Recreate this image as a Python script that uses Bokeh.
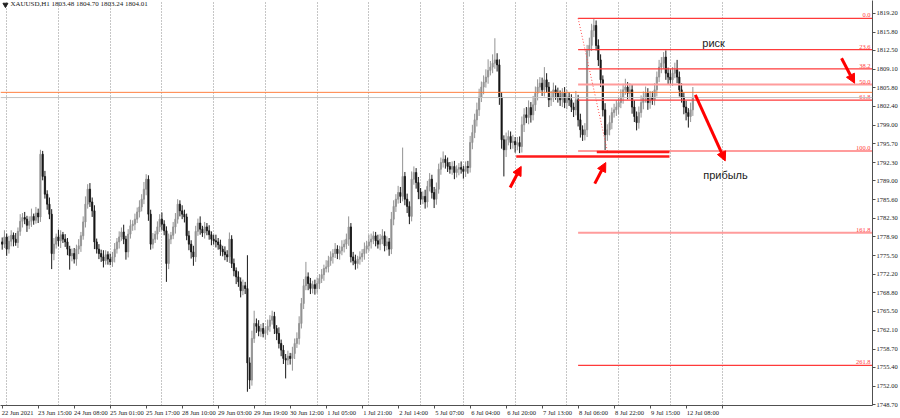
from bokeh.plotting import figure
from bokeh.models import (Range1d, FixedTicker, Label, Span, Arrow, NormalHead, LinearAxis,
                          ColumnDataSource, PrintfTickFormatter)
from bokeh.core.properties import value
from bokeh.embed import file_html
from bokeh.resources import INLINE

# ---------------- data ----------------
title_text = "XAUUSD,H1  1803.48 1804.70 1803.24 1804.01"

first_open = 1778.0
closes = [
    1777.6, 1778.9, 1776.7, 1778.1, 1779.2, 1778.5, 1777.9, 1779.9, 1781.7, 1782.4,
    1782.1, 1781.0, 1781.7, 1782.6, 1781.9, 1783.2, 1782.5, 1793.8, 1789.8, 1786.6,
    1784.8, 1783.0, 1775.9, 1777.6, 1778.9, 1778.2, 1779.3, 1778.5, 1778.0, 1776.7,
    1775.5, 1775.9, 1774.9, 1776.7, 1777.3, 1779.1, 1781.6, 1784.8, 1787.5, 1785.2,
    1783.6, 1778.0, 1776.7, 1775.9, 1775.3, 1774.6, 1775.7, 1774.9, 1774.4, 1775.3,
    1776.7, 1778.0, 1778.9, 1779.8, 1778.5, 1776.2, 1779.4, 1780.9, 1781.2, 1782.1,
    1783.4, 1784.3, 1785.7, 1787.5, 1789.3, 1783.0, 1777.6, 1778.5, 1779.4, 1780.7,
    1782.1, 1781.2, 1780.0, 1774.1, 1778.5, 1779.2, 1780.7, 1782.1, 1784.8, 1783.6,
    1783.0, 1782.5, 1779.1, 1777.6, 1776.2, 1775.3, 1779.9, 1781.4, 1780.3, 1779.6,
    1780.7, 1780.0, 1779.3, 1778.5, 1778.2, 1778.0, 1777.5, 1776.7, 1776.2, 1775.7,
    1775.3, 1778.5, 1774.1, 1772.8, 1771.7, 1770.8, 1769.2, 1770.1, 1769.6, 1756.2,
    1753.1, 1760.6, 1763.3, 1762.8, 1761.9, 1762.4, 1761.5, 1762.1, 1762.8, 1763.9,
    1764.6, 1762.4, 1761.5, 1759.7, 1758.5, 1757.0, 1756.7, 1757.4, 1757.0, 1757.9,
    1759.7, 1760.6, 1763.3, 1766.9, 1770.1, 1771.7, 1770.5, 1769.6, 1770.3, 1769.6,
    1770.5, 1771.4, 1772.1, 1773.2, 1773.5, 1774.6, 1775.3, 1775.9, 1776.7, 1775.9,
    1776.4, 1777.1, 1777.6, 1778.5, 1780.7, 1775.3, 1774.6, 1774.1, 1774.9, 1775.3,
    1775.9, 1776.7, 1777.3, 1778.0, 1778.5, 1779.1, 1778.2, 1777.6, 1778.5, 1779.1,
    1777.3, 1778.0, 1776.7, 1782.1, 1784.4, 1785.7, 1786.9, 1786.2, 1789.8, 1785.7,
    1784.4, 1782.6, 1789.3, 1790.5, 1788.7, 1787.0, 1785.7, 1786.2, 1785.2, 1788.0,
    1789.3, 1786.9, 1785.7, 1787.5, 1791.1, 1792.3, 1792.9, 1792.3, 1791.6, 1791.1,
    1791.6, 1790.5, 1791.1, 1791.4, 1791.1, 1790.7, 1791.6, 1791.4, 1795.9, 1797.7,
    1800.0, 1801.8, 1804.1, 1805.9, 1806.8, 1807.7, 1808.9, 1809.5, 1810.2, 1810.8,
    1809.9, 1804.1, 1796.4, 1794.6, 1796.4, 1797.0, 1795.9, 1796.1, 1795.5, 1795.9,
    1795.2, 1799.1, 1800.9, 1800.4, 1802.2, 1800.9, 1802.7, 1804.8, 1805.9, 1806.6,
    1805.4, 1807.2, 1805.9, 1803.6, 1804.1, 1805.4, 1804.8, 1804.1, 1803.6, 1804.8,
    1803.1, 1804.1, 1803.6, 1802.3, 1801.8, 1803.6, 1800.0, 1798.2, 1797.3, 1798.2,
    1812.5, 1813.4, 1816.1, 1817.0, 1813.4, 1810.8, 1807.2, 1801.8, 1797.3, 1798.2,
    1799.5, 1801.3, 1801.8, 1802.3, 1803.1, 1804.1, 1805.4, 1805.9, 1804.8, 1805.4,
    1802.3, 1800.6, 1799.5, 1801.3, 1803.1, 1804.1, 1804.8, 1803.1, 1804.1, 1803.6,
    1805.4, 1807.7, 1809.5, 1810.2, 1811.3, 1808.4, 1807.7, 1807.2, 1808.4, 1809.0,
    1807.7, 1805.4, 1804.1, 1802.3, 1801.3, 1800.6, 1801.8, 1804.01,
]
wick_up = [
    0.8, 1.2, 0.6, 1.0, 0.9, 0.5, 1.1, 0.7, 1.3, 0.8,
    1.0, 0.6, 0.9, 1.4, 0.5, 1.1, 0.8, 0.8, 0.6, 1.0,
    0.7, 1.2, 0.9, 1.1, 0.6, 1.3, 0.8, 0.5, 0.9, 0.7,
    0.6, 0.9, 1.0, 0.8, 1.2, 0.7, 1.0, 1.4, 0.9, 1.1,
    0.8, 1.0, 0.6, 0.9, 0.7, 1.2, 0.8, 0.6, 1.0, 0.9,
    1.1, 0.7, 1.0, 0.8, 1.3, 0.6, 0.9, 1.1, 0.7, 1.0,
    0.8, 1.2, 0.9, 1.3, 0.9, 0.7, 0.8, 1.1, 0.6, 1.0,
    0.9, 1.2, 0.7, 0.8, 1.0, 0.6, 0.9, 1.1, 0.9, 0.7,
    1.0, 0.8, 0.6, 0.9, 0.7, 1.1, 1.0, 0.8, 1.2, 0.6,
    0.9, 0.7, 1.0, 0.6, 0.8, 1.1, 0.7, 0.9, 0.6, 1.0,
    0.8, 1.2, 0.7, 0.9, 0.6, 1.0, 0.8, 1.1, 0.7, 6.0,
    1.0, 1.4, 2.3, 0.9, 1.1, 0.8, 1.0, 0.7, 1.2, 0.9,
    1.0, 0.8, 0.6, 1.1, 0.7, 0.9, 0.8, 1.0, 0.6, 1.2,
    0.9, 1.1, 1.3, 1.0, 1.2, 2.7, 0.8, 1.0, 0.7, 0.9,
    1.1, 0.8, 1.0, 0.7, 1.2, 0.9, 1.0, 0.8, 1.1, 0.7,
    0.9, 1.2, 0.8, 1.0, 1.9, 0.7, 0.9, 1.1, 0.6, 1.0,
    0.8, 1.2, 0.9, 1.3, 1.0, 0.8, 0.7, 1.1, 0.9, 1.2,
    0.8, 1.0, 0.7, 1.3, 1.1, 0.9, 1.2, 1.0, 5.2, 0.8,
    1.0, 0.9, 1.4, 1.1, 0.8, 1.0, 0.7, 0.9, 1.2, 1.0,
    1.1, 0.8, 1.0, 1.2, 1.0, 0.9, 1.4, 0.7, 0.9, 0.8,
    0.9, 1.0, 0.7, 0.8, 1.1, 0.6, 0.9, 1.0, 1.2, 1.4,
    1.1, 1.3, 1.5, 1.0, 1.2, 1.4, 2.0, 1.1, 1.6, 3.9,
    1.2, 1.0, 0.9, 0.8, 1.3, 1.1, 0.9, 1.2, 0.8, 1.0,
    1.1, 1.5, 1.2, 1.4, 1.3, 1.0, 1.6, 1.2, 1.4, 1.1,
    1.0, 2.3, 1.2, 0.9, 1.1, 1.3, 0.8, 1.0, 1.2, 0.9,
    1.1, 1.3, 0.9, 1.0, 0.8, 1.6, 0.9, 1.1, 0.8, 1.2,
    1.0, 1.4, 1.2, 1.3, 0.9, 1.1, 1.0, 0.8, 1.2, 1.0,
    1.3, 0.9, 1.1, 1.2, 1.0, 1.4, 1.1, 1.5, 0.9, 1.2,
    1.0, 1.2, 0.9, 1.1, 1.3, 1.0, 1.2, 0.9, 1.1, 1.0,
    1.2, 1.0, 1.3, 1.1, 0.9, 1.2, 1.0, 1.4, 1.1, 1.3,
    1.8, 1.0, 1.2, 0.9, 1.1, 0.8, 1.3, 1.9,
]
wick_dn = [
    1.0, 0.7, 1.2, 0.8, 0.9, 1.3, 0.6, 1.0, 0.8, 1.1,
    0.9, 1.2, 0.7, 1.0, 0.8, 0.6, 1.1, 0.9, 0.7, 0.8,
    1.0, 0.9, 2.8, 1.2, 0.8, 1.0, 1.3, 0.7, 0.9, 1.1,
    2.5, 1.0, 0.8, 1.2, 0.9, 1.1, 0.7, 1.0, 0.8, 0.9,
    1.1, 1.3, 0.8, 1.0, 0.9, 1.2, 0.7, 1.0, 0.6, 0.9,
    1.0, 0.8, 1.2, 0.7, 0.9, 1.4, 1.0, 0.8, 0.9, 1.1,
    0.7, 1.0, 0.8, 0.9, 1.1, 1.2, 1.0, 0.8, 0.7, 1.0,
    0.9, 1.1, 0.8, 3.3, 1.0, 0.9, 0.7, 1.2, 0.8, 1.0,
    0.9, 1.0, 0.8, 1.1, 1.2, 1.6, 0.9, 0.8, 1.0, 0.7,
    1.0, 0.8, 0.9, 1.1, 0.7, 1.0, 0.9, 1.2, 0.8, 1.0,
    0.9, 1.1, 0.8, 1.0, 1.3, 0.9, 1.2, 0.8, 1.0, 5.2,
    1.6, 1.0, 0.8, 1.2, 0.9, 1.0, 0.7, 1.1, 0.9, 1.0,
    0.8, 1.0, 1.2, 0.9, 1.1, 1.0, 3.3, 0.9, 1.1, 2.2,
    1.0, 0.8, 1.1, 0.9, 1.0, 0.8, 1.2, 1.0, 0.9, 1.1,
    0.9, 1.0, 0.8, 1.1, 0.7, 1.0, 0.9, 1.2, 0.8, 1.0,
    1.1, 0.8, 1.0, 0.9, 1.2, 1.0, 0.8, 1.1, 0.9, 1.0,
    0.9, 1.1, 0.8, 1.0, 1.2, 0.9, 1.0, 0.8, 1.1, 0.9,
    1.0, 0.8, 1.2, 0.9, 1.1, 1.0, 0.8, 1.2, 0.9, 1.1,
    1.2, 1.4, 0.9, 1.0, 1.1, 1.3, 1.0, 0.9, 1.2, 1.0,
    0.9, 1.1, 1.6, 1.0, 0.8, 1.0, 0.9, 1.1, 1.0, 0.8,
    1.0, 1.2, 0.9, 1.1, 0.8, 1.3, 1.0, 1.1, 0.9, 1.2,
    1.0, 1.2, 1.1, 0.9, 1.3, 1.0, 1.2, 0.9, 1.1, 1.0,
    1.2, 1.4, 1.6, 4.8, 1.3, 1.0, 1.2, 1.1, 1.4, 1.0,
    1.2, 1.1, 1.3, 1.0, 1.2, 1.4, 1.0, 1.1, 1.3, 0.9,
    1.1, 1.2, 1.0, 1.3, 1.1, 0.9, 1.2, 1.0, 1.1, 1.3,
    1.0, 1.2, 1.1, 0.9, 1.3, 1.0, 1.2, 1.4, 1.1, 1.0,
    1.3, 1.1, 1.0, 1.2, 0.9, 1.1, 1.3, 1.2, 2.9, 1.1,
    1.0, 1.2, 0.9, 1.1, 1.3, 1.0, 1.2, 0.9, 1.1, 1.0,
    1.2, 1.0, 1.4, 1.1, 0.9, 1.2, 1.0, 1.3, 1.1, 0.9,
    1.0, 1.2, 0.9, 1.1, 1.0, 1.2, 1.3, 1.0, 1.1, 0.9,
    1.1, 1.2, 1.0, 1.3, 1.4, 2.0, 1.0, 1.1,
]

price_ticks = [1819.20, 1815.80, 1812.50, 1809.10, 1805.80, 1802.40, 1799.00,
               1795.70, 1792.30, 1789.00, 1785.60, 1782.30, 1778.90, 1775.50,
               1772.20, 1768.80, 1765.50, 1762.10, 1758.70, 1755.40, 1752.00, 1748.70]

date_tick_bars = [0, 16, 32, 48, 64, 80, 96, 112, 128, 144, 160, 176, 192,
                  208, 224, 240, 256, 272, 288, 304, 320]
date_tick_labels = ["22 Jun 2021", "23 Jun 15:00", "24 Jun 08:00", "25 Jun 01:00",
                    "25 Jun 17:00", "28 Jun 10:00", "29 Jun 03:00", "29 Jun 19:00",
                    "30 Jun 12:00", "1 Jul 05:00", "1 Jul 21:00", "2 Jul 14:00",
                    "5 Jul 07:00", "6 Jul 04:00", "6 Jul 20:00", "7 Jul 13:00",
                    "8 Jul 06:00", "8 Jul 22:00", "9 Jul 15:00", "12 Jul 08:00", ""]
day_start_bars = [2, 25, 48, 71, 94, 117, 140, 163, 186, 205, 228, 251, 274, 297, 320]

fib_levels = [0.0, 23.6, 38.2, 50.0, 61.8, 100.0, 161.8, 261.8]
fib_high = 1818.3
fib_low = 1794.4
fib_bar_high = 256
fib_bar_low = 269

support_long = (228.5, 296.6, 1793.4)
support_short = (264.3, 296.6, 1794.2)

bid_price = 1804.01
ask_price = 1804.95

# ---------------- derived ----------------
n = len(closes)
bars = list(range(n))
opens = [first_open] + closes[:-1]
highs = [max(o, c) + w for o, c, w in zip(opens, closes, wick_up)]
lows = [min(o, c) - w for o, c, w in zip(opens, closes, wick_dn)]
UP, DOWN = "#939393", "#181818"
colors = [UP if c >= o else DOWN for o, c in zip(opens, closes)]
tops = [max(o, c) for o, c in zip(opens, closes)]
bottoms = [min(o, c) for o, c in zip(opens, closes)]

PX_PER_BAR = 2.26
PX_PER_USD = 5.577
FRAME_W, FRAME_H = 876, 407
X0 = -1.7 / PX_PER_BAR
X1 = X0 + FRAME_W / PX_PER_BAR
Y1 = 1821.5
Y0 = Y1 - FRAME_H / PX_PER_USD

SMALL = "Liberation Sans Narrow"
FS = "6.5px"

p = figure(width=900, height=418, x_range=Range1d(X0, X1), y_range=Range1d(Y0, Y1),
           output_backend="svg", toolbar_location=None, y_axis_location="right",
           min_border_left=0, min_border_top=0, min_border_right=0, min_border_bottom=0)
p.outline_line_color = None
p.background_fill_color = "white"
p.border_fill_color = "white"

# grid (day boundaries)
p.xgrid.ticker = FixedTicker(ticks=day_start_bars)
p.xgrid.grid_line_color = "#8c8c8c"
p.xgrid.grid_line_dash = "1 2"
p.xgrid.grid_line_width = 1
p.ygrid.visible = False

# right price axis
ya = p.yaxis[0]
ya.ticker = FixedTicker(ticks=price_ticks)
ya.formatter = PrintfTickFormatter(format="%.2f")

# bottom axis: tick marks at the real bar positions
xa = p.xaxis[0]
xa.ticker = FixedTicker(ticks=date_tick_bars)
xa.major_label_overrides = {b: "" for b in date_tick_bars}
xa.major_label_text_font_size = "0px"

for ax in (xa, ya):
    ax.axis_label = None
    ax.axis_line_color = "#505050"
    ax.major_tick_line_color = "#505050"
    ax.major_tick_out = 3
    ax.major_tick_in = 0
    ax.minor_tick_line_color = None
ya.major_label_text_font = SMALL
ya.major_label_text_font_size = FS
ya.major_label_text_color = "#202020"
ya.major_label_standoff = 1
xa.major_label_standoff = 0

# second bottom axis: labels set just right of each tick (MT4 style, left aligned)
label_pos = [round(b + (1.5 + 2.55 * len(lab) / 2.0) / PX_PER_BAR, 3)
             for b, lab in zip(date_tick_bars, date_tick_labels)]
xl = LinearAxis(ticker=FixedTicker(ticks=label_pos),
                major_label_overrides={pp: lab for pp, lab in zip(label_pos, date_tick_labels)},
                axis_line_color=None, major_tick_line_color=None, minor_tick_line_color=None,
                major_tick_out=0, major_tick_in=0, major_label_standoff=0,
                major_label_text_font=SMALL, major_label_text_font_size=FS,
                major_label_text_color="#202020", axis_label=None)
p.add_layout(xl, "below")

# candles
src = ColumnDataSource(dict(x=bars, h=highs, l=lows, top=tops, bottom=bottoms, color=colors))
p.segment("x", "h", "x", "l", line_color="color", line_width=1, source=src)
p.vbar(x="x", width=0.55, top="top", bottom="bottom", fill_color="color",
       line_color="color", line_width=0.8, source=src)

# price lines
p.add_layout(Span(location=bid_price, dimension="width", line_color="#c4c4c4", line_width=1))
p.add_layout(Span(location=ask_price, dimension="width", line_color="#ff8040", line_width=1))

# fibonacci
FIB_STRONG = {50.0, 100.0, 161.8}
fib_prices = [fib_high - lv / 100.0 * (fib_high - fib_low) for lv in fib_levels]
for lv, pr in zip(fib_levels, fib_prices):
    strong = lv in FIB_STRONG
    p.line([fib_bar_high, X1 + 5], [pr, pr],
           line_color="#ff9c9c" if strong else "#ff3a3a", line_width=2 if strong else 1.25)
p.text(x=[X1] * len(fib_levels), y=fib_prices, text=[f"{lv:.1f}" for lv in fib_levels],
       text_align="right", text_baseline="bottom", x_offset=-2, y_offset=-1,
       text_font=value(SMALL), text_font_size=FS, text_color="#ff3c3c")
p.line([fib_bar_high, fib_bar_low], [fib_high, fib_low], line_color="#ff4a4a",
       line_dash="1 2", line_width=1)

# support lines
for b0, b1, pr in (support_long, support_short):
    p.line([b0, b1], [pr, pr], line_color="#ff1a1a", line_width=2.5)

# arrows
RED = "#ff0000"
for xs, ys, xe, ye in [(225.8, 1787.8, 230.7, 1791.6),
                       (263.4, 1788.5, 268.3, 1792.3),
                       (308.1, 1804.5, 321.4, 1792.6),
                       (373.1, 1811.1, 378.9, 1806.6)]:
    p.add_layout(Arrow(end=NormalHead(size=9, fill_color=RED, line_color=RED, line_width=1),
                       x_start=xs, y_start=ys, x_end=xe, y_end=ye,
                       line_color=RED, line_width=3))

# annotation texts
p.add_layout(Label(x=311.2, y=1813.8, text="риск", text_font="Liberation Sans",
                   text_font_size="11px", text_color="#222222", text_baseline="middle"))
p.add_layout(Label(x=311.6, y=1790.1, text="прибыль", text_font="Liberation Sans",
                   text_font_size="11px", text_color="#222222", text_baseline="middle"))

# title
p.scatter(x=[X0 + 2.2], y=[Y1 - 0.75], marker="inverted_triangle", size=5,
          fill_color="#202020", line_color="#202020")
p.add_layout(Label(x=X0 + 4.4, y=Y1, y_offset=1, text=title_text, text_font=SMALL,
                   text_font_size="7px", text_color="#202020", text_baseline="top"))

open("out.html", "w").write(file_html(p, INLINE))
